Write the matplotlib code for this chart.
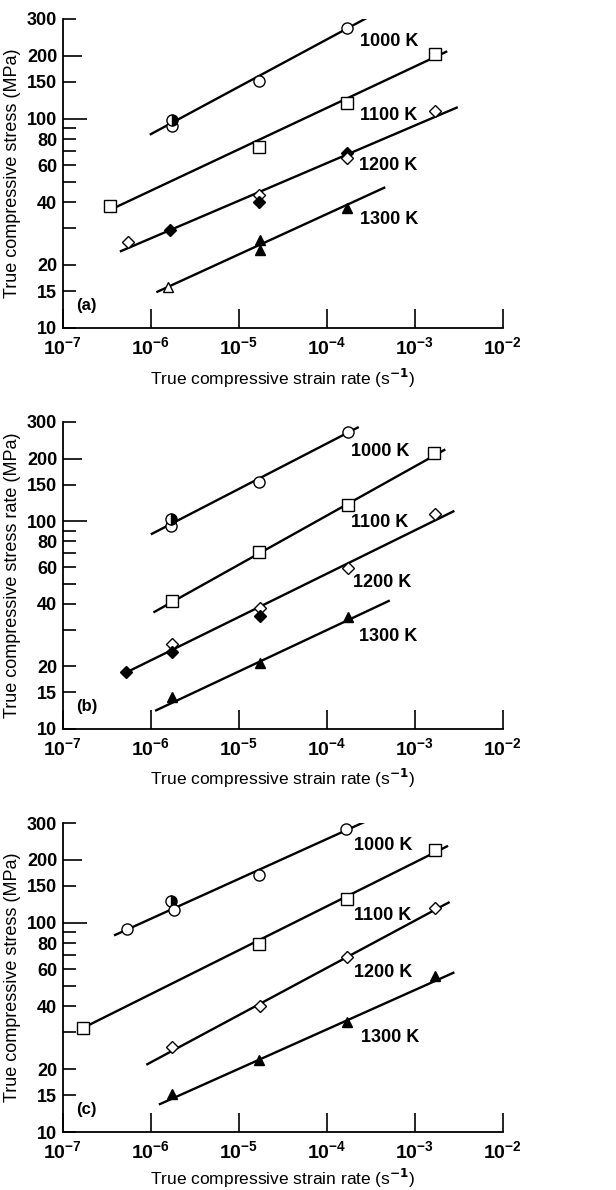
import matplotlib
matplotlib.use("Agg")
import matplotlib.pyplot as plt
from matplotlib.ticker import FixedLocator, NullFormatter, NullLocator, LogFormatterMathtext

plt.rcParams['font.family'] = ['Liberation Sans', 'DejaVu Sans']
plt.rcParams['font.weight'] = 'bold'

temps = ['1000 K', '1100 K', '1200 K', '1300 K']

# measured points: (temperature index, marker kind, strain rate, stress)
# kinds: o = open circle, h = half filled circle, s = open square,
#        d = open diamond, D = filled diamond, t = open triangle, T = filled triangle
points_a = [
    (0, 'o', 1.72e-6, 92), (0, 'h', 1.72e-6, 99), (0, 'o', 1.7e-5, 152), (0, 'o', 1.7e-4, 270),
    (1, 's', 3.44e-7, 38.3), (1, 's', 1.7e-5, 73.6), (1, 's', 1.7e-4, 119), (1, 's', 1.71e-3, 205),
    (2, 'd', 5.46e-7, 25.7), (2, 'D', 1.65e-6, 29.4), (2, 'd', 1.7e-5, 43), (2, 'D', 1.7e-5, 39.9),
    (2, 'D', 1.7e-4, 68.8), (2, 'd', 1.7e-4, 65.2), (2, 'd', 1.71e-3, 108.7),
    (3, 't', 1.58e-6, 15.7), (3, 'T', 1.73e-5, 26.4), (3, 'T', 1.73e-5, 23.6), (3, 'T', 1.7e-4, 37.4),
]
points_b = [
    (0, 'o', 1.70e-6, 95.2), (0, 'h', 1.70e-6, 102.8), (0, 'o', 1.72e-5, 154.5), (0, 'o', 1.73e-4, 267),
    (1, 's', 1.72e-6, 41.3), (1, 's', 1.72e-5, 70.8), (1, 's', 1.73e-4, 120), (1, 's', 1.67e-3, 212),
    (2, 'D', 5.25e-7, 18.7), (2, 'd', 1.72e-6, 25.5), (2, 'D', 1.75e-6, 23.4), (2, 'd', 1.75e-5, 38.0),
    (2, 'D', 1.75e-5, 34.8), (2, 'd', 1.73e-4, 59.4), (2, 'd', 1.7e-3, 107.9),
    (3, 'T', 1.72e-6, 14.2), (3, 'T', 1.75e-5, 20.7), (3, 'T', 1.75e-4, 34.7),
]
points_c = [
    (0, 'o', 5.32e-7, 93.6), (0, 'h', 1.69e-6, 127.7), (0, 'o', 1.83e-6, 115.4), (0, 'o', 1.70e-5, 169.3),
    (0, 'o', 1.67e-4, 281.7),
    (1, 's', 1.71e-7, 31.5), (1, 's', 1.72e-5, 78.9), (1, 's', 1.71e-4, 130), (1, 's', 1.72e-3, 223),
    (2, 'd', 1.73e-6, 25.5), (2, 'd', 1.75e-5, 40.0), (2, 'd', 1.71e-4, 68.9), (2, 'd', 1.70e-3, 117.5),
    (3, 'T', 1.74e-6, 15.2), (3, 'T', 1.72e-5, 22.2), (3, 'T', 1.71e-4, 33.6), (3, 'T', 1.70e-3, 55.6),
]

# fitted lines: (rate start, rate end, stress start, stress end) per temperature
lines_a = [(1.0e-6, 2.8e-4, 84.4, 302), (3.7e-7, 2.28e-3, 37.2, 209),
           (4.58e-7, 3.0e-3, 23.3, 113), (1.19e-6, 4.5e-4, 14.9, 46.8)]
lines_b = [(1.03e-6, 2.25e-4, 86.9, 282), (1.10e-6, 2.17e-3, 36.6, 220),
           (5.25e-7, 2.75e-3, 18.7, 111.4), (1.15e-6, 5.07e-4, 12.3, 41.3)]
lines_c = [(3.93e-7, 2.62e-4, 87.5, 302), (1.71e-7, 2.33e-3, 31.5, 232),
           (9.14e-7, 2.43e-3, 21.1, 125), (1.27e-6, 2.75e-3, 13.6, 57.7)]

ylabels = ['True compressive stress (MPa)', 'True compressive stress rate (MPa)',
           'True compressive stress (MPa)']
panel_tags = ['(a)', '(b)', '(c)']
xlabel = 'True compressive strain rate (s$^{-1}$)'

y_major = [10, 15, 20, 40, 60, 80, 100, 150, 200, 300]
y_minor = [30, 50, 70, 90]
x_ticks = [1e-7, 1e-6, 1e-5, 1e-4, 1e-3, 1e-2]

# where the temperature names sit (rate, stress)
label_pos = [
    [(2.4e-4, 233), (2.4e-4, 103.5), (2.3e-4, 59.5), (2.4e-4, 32.9)],
    [(1.9e-4, 216), (1.9e-4, 99), (2.0e-4, 50.7), (2.35e-4, 27.9)],
    [(2.04e-4, 234), (2.04e-4, 108), (2.04e-4, 58), (2.47e-4, 28.3)],
]

styles = {
    'o': dict(marker='o', mfc='white', mec='black', ms=8),
    'h': dict(marker='o', mfc='black', mfcalt='white', fillstyle='right', mec='black', ms=8),
    's': dict(marker='s', mfc='white', mec='black', ms=8),
    'd': dict(marker='D', mfc='white', mec='black', ms=6),
    'D': dict(marker='D', mfc='black', mec='black', ms=6),
    't': dict(marker='^', mfc='white', mec='black', ms=7),
    'T': dict(marker='^', mfc='black', mec='black', ms=7),
}

fig = plt.figure(figsize=(6.16, 11.9), dpi=100)
boxes = [[0.102, 0.7244, 0.714, 0.2597],
         [0.102, 0.3874, 0.714, 0.258],
         [0.102, 0.0487, 0.714, 0.2597]]
xlabel_y = [-0.125, -0.125, -0.112]

for i, (pts, lns) in enumerate(zip([points_a, points_b, points_c], [lines_a, lines_b, lines_c])):
    ax = fig.add_axes(boxes[i])
    ax.set_xscale('log')
    ax.set_yscale('log')
    ax.set_xlim(1e-7, 1e-2)
    ax.set_ylim(10, 300)

    for x0, x1, y0, y1 in lns:
        ax.plot([x0, x1], [y0, y1], color='black', lw=1.7, zorder=2)
    for t, kind, x, y in pts:
        ax.plot([x], [y], linestyle='none', mew=1.0, zorder=3, **styles[kind])
    for t, (lx, ly) in enumerate(label_pos[i]):
        ax.text(lx, ly, temps[t], fontsize=13, ha='left', va='center')

    ax.text(0.03, 0.05, panel_tags[i], transform=ax.transAxes, fontsize=12, ha='left', va='bottom')

    for side in ['top', 'right']:
        ax.spines[side].set_visible(False)
    for side in ['left', 'bottom']:
        ax.spines[side].set_linewidth(1.3)

    ax.xaxis.set_major_locator(FixedLocator(x_ticks))
    ax.xaxis.set_major_formatter(LogFormatterMathtext())
    ax.xaxis.set_minor_locator(NullLocator())
    ax.yaxis.set_major_locator(FixedLocator(y_major))
    ax.yaxis.set_major_formatter(plt.FuncFormatter(lambda v, p: '%d' % v))
    ax.yaxis.set_minor_locator(FixedLocator(y_minor))
    ax.yaxis.set_minor_formatter(NullFormatter())

    ax.tick_params(axis='x', which='major', direction='in', length=14, width=1.2,
                   labelsize=14, pad=6)
    ax.tick_params(axis='y', which='major', direction='in', length=9, width=1.2,
                   labelsize=13, pad=4)
    ax.tick_params(axis='y', which='minor', direction='in', length=9, width=1.2)
    for tk, v in zip(ax.yaxis.get_major_ticks(), y_major):
        if v == 100:
            tk.tick1line.set_markersize(17)
        if v == 200:
            tk.tick1line.set_markersize(14)

    ax.set_ylabel(ylabels[i], fontsize=13)
    ax.yaxis.set_label_coords(-0.095, 0.5)
    ax.set_xlabel(xlabel, fontsize=12.5)
    ax.xaxis.set_label_coords(0.5, xlabel_y[i])

fig.savefig('out.png', dpi=100)
